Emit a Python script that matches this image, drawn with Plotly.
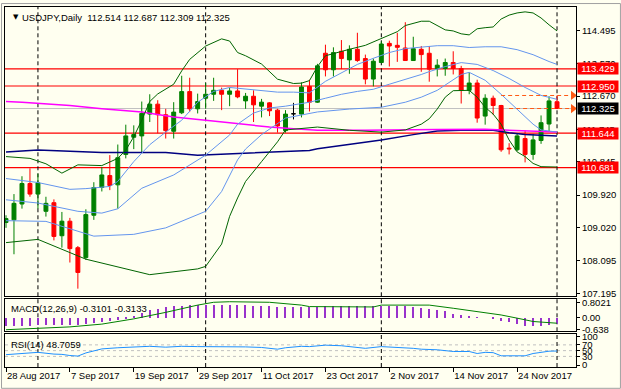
import numpy as np
import pandas as pd
import plotly.graph_objects as go

# ---------------- data ----------------
symbol = "USDJPY"
timeframe = "Daily"
dates = pd.bdate_range("2017-08-28", "2017-12-01")

opens = [109.158, 109.232, 109.672, 110.242, 109.948, 109.470, 109.709, 108.791, 109.195, 108.459,
         108.184, 109.360, 110.131, 110.462, 110.205, 111.050, 111.527, 111.564, 112.170, 112.446,
         112.152, 111.693, 112.207, 112.795, 112.317, 112.611, 112.721, 112.831, 112.721, 112.813,
         112.537, 112.666, 112.390, 112.482, 112.280, 111.711, 112.179, 112.170, 112.941, 112.501,
         113.860, 113.401, 113.915, 113.676, 113.970, 113.713, 113.143, 113.603, 114.135, 114.080,
         114.007, 113.658, 113.970, 113.860, 113.437, 113.437, 113.603, 113.437, 112.831, 113.033,
         112.115, 112.611, 112.409, 111.225, 111.178, 111.491, 111.050, 111.436, 111.895, 112.514]
highs = [109.360, 109.948, 110.444, 110.664, 110.517, 109.874, 109.801, 109.452, 109.287, 108.506,
         109.525, 110.278, 110.701, 111.031, 111.325, 111.876, 111.858, 112.519, 112.721, 112.556,
         112.317, 112.501, 113.235, 113.180, 112.739, 113.033, 113.180, 112.905, 112.905, 113.419,
         112.758, 112.831, 112.593, 112.501, 112.317, 112.280, 112.482, 113.052, 113.125, 113.566,
         114.098, 114.025, 114.227, 114.080, 114.429, 113.823, 113.713, 114.190, 114.209, 114.429,
         114.723, 114.319, 114.062, 114.062, 113.694, 113.713, 113.915, 113.511, 113.327, 113.125,
         112.721, 112.684, 112.427, 111.362, 111.619, 111.711, 111.619, 112.133, 112.666, 112.687]
lows = [109.011, 108.277, 109.544, 109.874, 109.544, 109.323, 108.662, 108.460, 108.047, 107.321,
        108.120, 109.232, 110.021, 110.058, 109.544, 110.940, 111.197, 111.087, 111.950, 111.637,
        111.491, 111.491, 112.170, 112.225, 112.188, 112.317, 112.537, 112.280, 112.390, 112.611,
        112.317, 111.950, 112.078, 112.115, 111.656, 111.656, 112.023, 112.078, 112.244, 112.482,
        113.217, 113.217, 113.419, 113.290, 113.621, 112.997, 112.941, 113.584, 113.492, 113.621,
        113.658, 113.650, 113.345, 113.070, 113.217, 113.235, 113.272, 112.464, 112.721, 111.931,
        111.876, 112.152, 111.123, 111.050, 111.142, 110.829, 110.903, 111.344, 111.693, 112.309]
closes = [109.268, 109.691, 110.242, 109.948, 110.260, 109.691, 108.772, 109.195, 108.433, 107.771,
          109.379, 110.131, 110.480, 110.187, 110.958, 111.564, 111.601, 112.188, 112.446, 112.152,
          111.711, 112.225, 112.795, 112.317, 112.519, 112.721, 112.831, 112.721, 112.813, 112.648,
          112.666, 112.427, 112.501, 112.262, 111.840, 112.170, 112.179, 112.923, 112.501, 113.511,
          113.401, 113.878, 113.713, 113.970, 113.658, 113.143, 113.639, 114.117, 114.062, 114.025,
          113.658, 113.988, 113.823, 113.419, 113.529, 113.603, 113.437, 112.831, 113.033, 112.060,
          112.611, 112.409, 111.178, 111.205, 111.564, 111.050, 111.454, 111.931, 112.537, 112.325]

# Bollinger bands (20, 2) - green, and (20, 1) - blue
bb2_up_bars = [0, 3, 5, 7, 9, 12, 14, 15, 16, 17, 18, 19, 21, 22, 23, 25, 27, 28, 29, 30, 32, 34, 36, 37,
               38, 39, 40, 42, 43, 45, 47, 49, 50, 52, 53, 55, 56, 57, 58, 59, 60, 61, 62, 63, 64, 65,
               66, 67, 68, 69]
bb2_up = [110.99, 110.94, 110.79, 110.53, 110.76, 110.74, 110.94, 111.17, 111.54, 112.00, 112.52, 112.73,
          113.00, 113.37, 113.69, 114.06, 114.26, 114.20, 113.88, 113.79, 113.56, 113.14, 113.02, 113.03,
          113.10, 113.49, 113.79, 113.92, 113.97, 114.08, 114.26, 114.46, 114.63, 114.75, 114.75, 114.51,
          114.48, 114.40, 114.37, 114.54, 114.57, 114.59, 114.81, 114.92, 114.98, 115.01, 114.98, 114.84,
          114.65, 114.48]
bb1_up_bars = [0, 4, 8, 10, 13, 14, 16, 18, 20, 22, 24, 26, 28, 30, 32, 34, 36, 38, 40, 42, 44, 46, 48,
               50, 52, 54, 56, 58, 60, 62, 64, 66, 68, 69]
bb1_up = [110.38, 110.27, 110.08, 110.10, 110.16, 110.30, 110.85, 111.32, 111.67, 112.00, 112.50, 112.80,
          112.91, 112.86, 112.83, 112.78, 112.78, 112.76, 113.08, 113.32, 113.55, 113.72, 113.88, 113.99,
          114.04, 114.07, 114.07, 114.02, 114.04, 114.04, 113.96, 113.82, 113.63, 113.55]
bb_mid_bars = [0, 4, 9, 12, 14, 17, 21, 25, 28, 29, 31, 33, 35, 38, 40, 42, 44, 46, 48, 50, 52, 53, 55,
               57, 59, 61, 63, 65, 67, 69]
bb_mid = [109.79, 109.70, 109.47, 109.42, 109.54, 110.11, 110.48, 111.03, 111.59, 111.89, 112.20, 112.34,
          112.39, 112.50, 112.61, 112.72, 112.80, 112.86, 113.00, 113.13, 113.27, 113.35, 113.49, 113.60,
          113.55, 113.38, 113.16, 112.91, 112.69, 112.58]
bb1_dn_bars = [0, 5, 11, 16, 20, 25, 27, 29, 30, 32, 35, 39, 43, 47, 50, 52, 54, 56, 57, 58, 60, 62, 64,
               66, 67, 69]
bb1_dn = [109.21, 109.19, 108.78, 108.83, 109.01, 109.47, 110.02, 110.90, 111.20, 111.60, 112.06, 112.23,
          112.31, 112.36, 112.50, 112.64, 112.83, 113.11, 113.27, 113.33, 113.11, 112.72, 112.31, 111.89,
          111.73, 111.67]
bb2_dn_bars = [0, 4, 10, 18, 24, 25, 27, 28, 29, 30, 32, 34, 35, 39, 43, 47, 50, 52, 53, 54, 55, 56, 58,
               59, 60, 61, 62, 63, 64, 65, 66, 67, 69]
bb2_dn = [108.60, 108.69, 108.14, 107.71, 107.87, 107.94, 108.56, 109.33, 109.84, 110.30, 110.85, 111.40,
          111.73, 111.81, 111.72, 111.67, 111.73, 111.89, 112.04, 112.31, 112.64, 112.82, 112.83, 112.64,
          112.36, 112.17, 111.89, 111.45, 111.12, 110.99, 110.80, 110.71, 110.70]
ma_magenta_bars = [0, 2, 8, 12, 17, 21, 25, 29, 33, 36, 39, 45, 50, 54, 60, 64, 69]
ma_magenta = [112.52, 112.50, 112.41, 112.32, 112.23, 112.09, 112.00, 111.90, 111.81, 111.76, 111.72,
              111.72, 111.72, 111.74, 111.75, 111.72, 111.67]
ma_navy_bars = [0, 4, 12, 20, 24, 28, 32, 35, 38, 39, 43, 47, 51, 54, 57, 61, 63, 65, 69]
ma_navy = [111.12, 111.17, 111.10, 111.10, 111.03, 111.07, 111.10, 111.12, 111.16, 111.21, 111.32, 111.45,
           111.60, 111.70, 111.72, 111.72, 111.65, 111.60, 111.56]

levels = [113.429, 112.950, 111.644, 110.681]
price_ticks = [114.495, 113.570, 112.670, 111.745, 110.845, 109.920, 109.020, 108.095, 107.195]
arrow_start_bars = [62, 63]

macd_hist = [-0.45, -0.43, -0.42, -0.42, -0.41, -0.40, -0.38, -0.37, -0.36, -0.36,
             -0.33, -0.30, -0.25, -0.18, -0.10, -0.03, 0.12, 0.28, 0.42, 0.50,
             0.56, 0.61, 0.65, 0.68, 0.70, 0.71, 0.71, 0.71, 0.70, 0.69,
             0.67, 0.65, 0.63, 0.61, 0.59, 0.58, 0.59, 0.60, 0.59, 0.60,
             0.61, 0.61, 0.61, 0.61, 0.61, 0.61, 0.62, 0.66, 0.63, 0.61,
             0.61, 0.58, 0.52, 0.49, 0.40, 0.36, 0.22, 0.13, 0.08, 0.03,
             0.00, -0.02, -0.19, -0.22, -0.31, -0.43, -0.45, -0.45, -0.40, -0.3101]
macd_signal_bars = [0, 3, 8, 12, 16, 20, 24, 26, 28, 33, 37, 38, 46, 47, 53, 56, 59, 62, 64, 66, 69]
macd_signal = [-0.66, -0.61, -0.51, -0.36, -0.08, 0.27, 0.66, 0.81, 0.84, 0.81, 0.66, 0.58, 0.56, 0.66,
               0.66, 0.49, 0.31, 0.13, -0.04, -0.22, -0.3133]
macd_ticks = [0.8021, 0.0, -0.638]
macd_ticktext = ["0.8021", "0.00", "-0.638"]

rsi_bars = [0, 2, 4, 6, 7, 8, 9, 10, 11, 12, 14, 16, 18, 20, 22, 24, 26, 28, 30, 32, 34, 35, 37, 38, 40,
            42, 44, 45, 47, 49, 51, 52, 54, 56, 58, 59, 60, 61, 62, 64, 65, 66, 68, 69]
rsi = [36, 40, 44, 38, 37, 33, 31, 42, 50, 56, 60, 62, 65, 62, 65, 64, 64, 63, 63, 61, 55, 60, 65, 64, 69,
       67, 62, 58, 64, 62, 58, 55, 53, 47, 47, 40, 44, 43, 32, 32, 32, 40, 48, 48.7059]
rsi_levels = [30, 50, 70]
rsi_ticks = [100, 70, 50, 30, 0]

# ---------------- styling ----------------
FONT = "Liberation Sans, Arial, sans-serif"
BG = "#FFFFF0"
GREEN = "#008000"
RED = "#FF0000"
BLUE = "#6495ED"
ORANGE = "#FF5A14"

n = len(dates)
bars = np.arange(n)
o = np.array(opens); h = np.array(highs); l = np.array(lows); c = np.array(closes)
doji = o == c

def masked(arr, mask):
    return [v if m else None for v, m in zip(arr, mask)]

fig = go.Figure()

# candles
fig.add_trace(go.Candlestick(
    x=bars, open=masked(o, ~doji), high=masked(h, ~doji), low=masked(l, ~doji), close=masked(c, ~doji),
    increasing=dict(line=dict(color=GREEN, width=1), fillcolor=GREEN),
    decreasing=dict(line=dict(color=RED, width=1), fillcolor=RED),
    whiskerwidth=0, xaxis="x", yaxis="y", hoverinfo="skip", showlegend=False))
fig.add_trace(go.Candlestick(
    x=bars, open=masked(o, doji), high=masked(h, doji), low=masked(l, doji), close=masked(c, doji),
    increasing=dict(line=dict(color="#000000", width=1), fillcolor="#000000"),
    decreasing=dict(line=dict(color="#000000", width=1), fillcolor="#000000"),
    whiskerwidth=0, xaxis="x", yaxis="y", hoverinfo="skip", showlegend=False))

def line(xs, ys, color, width=1, xa="x", ya="y"):
    fig.add_trace(go.Scatter(x=xs, y=ys, mode="lines", line=dict(color=color, width=width),
                             xaxis=xa, yaxis=ya, hoverinfo="skip", showlegend=False))

line(ma_navy_bars, ma_navy, "#000080", 1.5)
line(ma_magenta_bars, ma_magenta, "#FF00FF", 1.5)
line(bb2_up_bars, bb2_up, "#006400")
line(bb2_dn_bars, bb2_dn, "#006400")
line(bb1_up_bars, bb1_up, BLUE)
line(bb_mid_bars, bb_mid, BLUE)
line(bb1_dn_bars, bb1_dn, BLUE)

# last price arrows
arrow_levels = [highs[-1], closes[-1]]
arrow_end = bars[-1] + 2
for lv, sb in zip(arrow_levels, arrow_start_bars):
    fig.add_trace(go.Scatter(x=[sb, arrow_end], y=[lv, lv], mode="lines",
                             line=dict(color=ORANGE, width=1, dash="4px,3px"),
                             hoverinfo="skip", showlegend=False))
fig.add_trace(go.Scatter(x=[arrow_end] * 2, y=arrow_levels, mode="markers",
                         marker=dict(symbol="triangle-right", size=8, color=ORANGE),
                         cliponaxis=False, hoverinfo="skip", showlegend=False))

# MACD
fig.add_trace(go.Bar(x=bars, y=macd_hist, width=0.15, marker=dict(color="#9932CC", line=dict(width=0)),
                     xaxis="x2", yaxis="y2", hoverinfo="skip", showlegend=False))
line(macd_signal_bars, macd_signal, GREEN, 1, "x2", "y2")

# RSI
line(rsi_bars, rsi, "#1E90FF", 1, "x3", "y3")

shapes = []
for lv in levels:
    shapes.append(dict(type="line", xref="x domain", yref="y", x0=0, x1=1, y0=lv, y1=lv,
                       line=dict(color=RED, width=1.2), layer="below"))
shapes.append(dict(type="line", xref="x domain", yref="y", x0=0, x1=1, y0=closes[-1], y1=closes[-1],
                   line=dict(color="#C0C0C0", width=1), layer="below"))
for lv in rsi_levels:
    shapes.append(dict(type="line", xref="x3 domain", yref="y3", x0=0, x1=1, y0=lv, y1=lv,
                       line=dict(color="#C0C0C0", width=1, dash="3px,3px"), layer="below"))
separators = [i for i in range(1, n) if dates[i].month != dates[i - 1].month]
for s in separators:
    for xa, ya in (("x", "y"), ("x2", "y2"), ("x3", "y3")):
        shapes.append(dict(type="line", xref=xa, yref=f"{ya} domain", x0=s, x1=s, y0=0, y1=1,
                           line=dict(color="#000000", width=1, dash="4px,3px"), layer="below"))
# outer window frame
shapes.append(dict(type="rect", xref="paper", yref="paper", x0=-0.0061, x1=1.0778, y0=-0.0592, y1=1.0096,
                   line=dict(color="#A0A0A0", width=1), fillcolor="rgba(0,0,0,0)", layer="above"))

annotations = [
    dict(xref="paper", yref="paper", x=0, y=1, xanchor="left", yanchor="top", xshift=6, yshift=-4,
         text="▼", showarrow=False, font=dict(family="DejaVu Sans", size=7, color="#000000")),
    dict(xref="paper", yref="paper", x=0, y=1, xanchor="left", yanchor="top", xshift=15, yshift=-3,
         text=f"{symbol},{timeframe}\u00a0\u00a0{opens[-1]:.3f} {highs[-1]:.3f} {lows[-1]:.3f} {closes[-1]:.3f}",
         showarrow=False, font=dict(family=FONT, size=9.5, color="#000000")),
    dict(xref="paper", yref="y2 domain", x=0, y=1, xanchor="left", yanchor="top", xshift=4, yshift=-2,
         text=f"MACD(12,26,9) {macd_hist[-1]:.4f} {macd_signal[-1]:.4f}",
         showarrow=False, font=dict(family=FONT, size=9.5, color="#000000")),
    dict(xref="paper", yref="y3 domain", x=0, y=1, xanchor="left", yanchor="top", xshift=4, yshift=-3,
         text=f"RSI(14) {rsi[-1]:.4f}",
         showarrow=False, font=dict(family=FONT, size=9.5, color="#000000")),
]
for lv in levels:
    annotations.append(dict(xref="paper", yref="y", x=1, y=lv, xanchor="left", yanchor="middle", xshift=1,
                            text=f"{lv:.3f}", showarrow=False, bgcolor=RED, width=38, height=9,
                            borderpad=1, align="center",
                            font=dict(family=FONT, size=9.5, color="#FFFFFF")))
annotations.append(dict(xref="paper", yref="y", x=1, y=closes[-1], xanchor="left", yanchor="middle",
                        xshift=1, text=f"{closes[-1]:.3f}", showarrow=False, bgcolor="#000000",
                        width=38, height=9, borderpad=1, align="center",
                        font=dict(family=FONT, size=9.5, color="#FFFFFF")))

tick_bars = list(range(0, n, 8))
tick_text = [f"{dates[i].day} {dates[i]:%b %Y}" for i in tick_bars]

axis_common = dict(showline=True, mirror=True, linecolor="#000000", linewidth=1,
                   showgrid=False, zeroline=False)
xrange = [-0.125, 71.375]
fig.update_layout(
    width=621, height=389,
    margin=dict(l=4, r=45, t=4, b=22),
    paper_bgcolor=BG, plot_bgcolor=BG,
    font=dict(family=FONT, size=9.5, color="#000000"),
    bargap=0, showlegend=False,
    shapes=shapes, annotations=annotations,
    xaxis=dict(domain=[0, 1], range=xrange, anchor="y", showticklabels=False, ticks="",
               rangeslider=dict(visible=False), **axis_common),
    xaxis2=dict(domain=[0, 1], matches="x", anchor="y2", showticklabels=False, ticks="", **axis_common),
    xaxis3=dict(domain=[0, 1], matches="x", anchor="y3", tickmode="array", tickvals=tick_bars,
                ticktext=tick_text, ticks="outside", ticklen=4, tickcolor="#000000",
                ticklabelposition="outside right", **axis_common),
    yaxis=dict(domain=[0.1964, 1], range=[107.109, 115.145], side="right", anchor="x",
               tickmode="array", tickvals=price_ticks, ticktext=[f"{t:.3f}" for t in price_ticks],
               ticks="outside", ticklen=3, tickcolor="#000000", **axis_common),
    yaxis2=dict(domain=[0.0992, 0.1901], range=[-0.745, 1.01], side="right", anchor="x2",
                tickmode="array", tickvals=macd_ticks, ticktext=macd_ticktext,
                ticks="outside", ticklen=3, tickcolor="#000000", **axis_common),
    yaxis3=dict(domain=[0, 0.0923], range=[-6.9, 108.6], side="right", anchor="x3",
                tickmode="array", tickvals=rsi_ticks, ticktext=[str(t) for t in rsi_ticks],
                ticks="outside", ticklen=3, tickcolor="#000000", **axis_common),
)

fig.write_html("out.html", config={"displayModeBar": False},
               post_script="document.body.style.margin='0';")
